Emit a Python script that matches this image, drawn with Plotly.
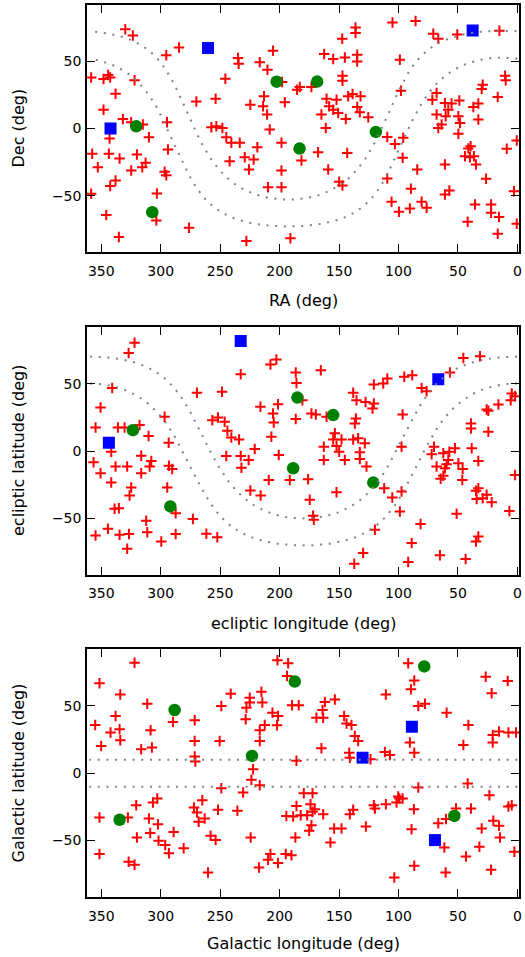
import numpy as np
import plotly.graph_objects as go

# ---------------- data ----------------
# Panel 1: equatorial (RA, Dec) in degrees
eq_red = [
    (329.8, 74.0), (323.4, 69.3), (284.6, 60.4), (295.3, 54.5), (358.5, 38.1), (348.1, 36.9), (344.2, 39.9),
    (342.5, 38.1), (322.0, 35.9), (338.0, 26.0), (348.1, 14.1), (331.8, 7.2), (324.8, 4.7), (315.0, 3.0),
    (294.7, 4.7), (270.0, 20.1), (253.8, 22.3), (245.6, 37.1), (235.0, 52.5), (234.4, 48.3), (216.7, 49.3),
    (210.2, 43.8), (205.5, 58.0), (197.9, 34.7), (185.3, 29.0), (183.0, 31.0), (213.1, 24.0), (224.6, 17.8),
    (213.9, 16.6), (195.6, 19.6), (210.5, 10.4),
    (105.0, 79.0), (85.6, 80.0), (136.1, 75.3), (136.1, 71.1), (147.3, 66.9), (70.7, 70.6), (66.5, 66.9),
    (50.5, 70.1), (15.1, 72.8), (162.5, 55.5), (154.9, 51.8), (145.1, 53.0), (134.7, 55.0), (134.7, 50.0),
    (98.8, 51.3), (147.1, 39.4), (147.1, 35.6), (173.2, 31.0), (97.9, 28.2), (67.9, 26.5), (160.5, 22.3),
    (152.1, 21.5), (142.3, 24.0), (138.6, 25.8), (131.9, 24.0), (158.3, 16.6), (154.9, 14.1), (164.8, 10.4),
    (150.7, 11.6), (134.7, 16.1), (132.5, 12.1), (144.3, 7.2), (125.4, 8.4), (71.5, 21.5), (60.9, 19.0),
    (55.3, 18.6), (58.1, 14.1), (48.8, 21.0), (67.9, 10.4), (60.3, 9.2), (49.6, 9.2), (48.2, 4.2), (63.7, 3.0),
    (37.0, 16.1), (32.8, 18.6), (32.8, 6.7), (29.1, 32.7), (30.0, 29.5), (16.5, 23.5), (10.3, 39.4), (9.8, 35.9),
    (257.4, 1.0), (253.2, 1.7), (248.1, 0.5), (208.3, -0.7), (343.0, -7.4), (309.9, -6.4), (244.8, -6.4),
    (240.6, -10.6), (233.5, -10.6), (218.7, -13.9), (198.4, -10.6), (293.9, -15.6), (357.6, -18.8),
    (343.6, -18.8), (334.6, -22.3), (320.0, -19.3), (352.9, -28.7), (324.8, -31.2), (315.5, -28.7),
    (312.7, -25.5), (296.7, -32.2), (295.3, -34.7), (338.0, -38.6), (342.5, -42.8), (242.0, -24.3),
    (229.3, -21.3), (221.8, -23.0), (225.7, -30.5), (198.4, -31.2), (181.6, -23.8), (209.7, -43.6),
    (198.4, -43.6), (358.5, -48.5), (303.2, -48.3), (345.8, -64.4), (303.7, -68.4), (335.2, -80.7),
    (276.2, -73.8), (227.9, -83.7), (190.9, -81.7),
    (161.1, 0.5), (167.6, -17.6), (143.1, -18.1), (159.1, -30.5), (149.9, -39.6), (147.1, -42.3),
    (109.4, -6.2), (103.0, -11.4), (96.0, -6.9), (96.5, -21.8), (109.4, -37.1), (84.2, -30.5), (89.5, -44.8),
    (105.8, -54.5), (99.6, -61.9), (90.4, -59.4), (80.5, -54.5), (76.3, -58.9), (66.5, 0.5), (49.6, -3.9),
    (60.9, -26.8), (41.2, -14.9), (39.3, -13.1), (44.0, -20.6), (39.8, -21.3), (36.5, -20.6), (34.8, -26.8),
    (26.3, -37.4), (60.9, -49.0), (57.2, -46.1), (35.6, -56.5), (22.1, -56.5), (22.1, -62.7), (15.4, -65.9),
    (41.8, -69.3), (16.5, -78.3), (8.9, -15.1), (0.5, -8.9), (2.8, -46.6), (0.5, -70.8),
]
eq_green = [(320.6, 1.7), (307.1, -62.2), (202.5, 34.9), (183.2, -14.9), (168.4, 35.0), (119.0, -2.5)]
eq_blue = [(342.2, 0.0), (260.2, 60.0), (37.6, 73.0)]

# Panel 2: ecliptic (longitude, latitude)
ecl_red = [
    (322.0, 80.5), (327.0, 72.8), (340.8, 46.9), (350.6, 32.3), (354.8, 17.5), (336.0, 17.5), (330.4, 17.5),
    (317.8, 19.3), (310.2, 11.1), (296.7, 25.4), (293.3, 6.2), (269.5, 43.2), (248.4, 44.0), (232.7, 57.0),
    (256.6, 22.9), (251.8, 24.9), (246.2, 21.7), (243.9, 15.0), (240.6, 10.1), (234.1, 8.6), (207.7, 64.2),
    (202.7, 67.9), (186.4, 58.3), (185.8, 50.6), (216.1, 32.8), (205.5, 27.9), (201.3, 34.8), (204.9, 21.2),
    (186.4, 23.7), (206.9, 10.6), (180.8, 37.8),
    (165.3, 60.0), (173.2, 27.9), (169.5, 27.2), (160.5, 25.4), (138.1, 43.2), (135.3, 37.8), (127.7, 36.5),
    (120.7, 35.3), (121.8, 31.6), (120.7, 49.4), (112.8, 50.1), (109.4, 53.8), (135.8, 24.2), (136.7, 20.5),
    (95.1, 55.1), (88.4, 56.3), (80.5, 46.9), (76.3, 44.4), (56.7, 58.3), (45.4, 69.1), (31.4, 70.4),
    (96.5, 27.2), (153.5, 13.1), (154.9, 8.6), (147.9, 8.6), (138.1, 8.6), (133.9, 9.4), (128.3, 5.7),
    (39.0, 20.5), (39.0, 16.8), (24.4, 14.3), (25.8, 30.9), (24.4, 29.9), (15.9, 34.6), (4.7, 42.7),
    (1.9, 40.7), (5.6, 37.8),
    (341.6, -0.5), (356.5, -8.4), (350.6, -16.5), (338.0, -11.6), (328.2, -11.6), (341.6, -23.5),
    (316.4, -3.5), (307.9, -7.4), (309.3, -11.6), (316.4, -16.5), (324.8, -27.2), (326.2, -33.1),
    (293.1, -10.9), (290.3, -13.3), (294.5, -27.2), (338.8, -43.0), (335.2, -42.5), (354.8, -62.7),
    (344.4, -57.8), (334.6, -62.2), (326.7, -61.7), (328.2, -72.6), (312.2, -51.9), (311.3, -60.3),
    (299.5, -67.2), (287.4, -46.2), (287.4, -61.7), (272.9, -50.6), (261.6, -61.5), (252.4, -64.0),
    (244.8, -3.7), (232.7, -3.7), (232.1, -12.4), (226.0, -6.7), (220.9, 1.5), (200.7, -3.0), (209.1, -21.5),
    (191.4, -21.5), (224.6, -29.4), (215.9, -33.1),
    (162.8, 3.2), (152.1, 3.7), (149.9, -0.5), (162.8, -6.7), (145.1, -6.7), (132.5, -1.0), (132.5, -6.0),
    (126.9, -11.6), (176.0, -21.0), (174.6, -36.3), (171.8, -48.2), (171.2, -51.1), (152.1, -30.6),
    (112.0, -27.7), (105.2, -34.6), (97.4, -30.1), (98.8, -44.9), (119.8, -58.5), (81.4, -54.3),
    (129.7, -75.8), (137.2, -83.7), (88.9, -68.4), (91.8, -82.5), (97.4, 3.2), (72.1, -2.5), (70.1, 3.2),
    (62.3, -1.7), (57.2, -0.5), (52.5, 2.0), (58.1, -6.7), (59.5, -9.9), (67.9, -11.6), (60.9, -12.8),
    (62.3, -18.3), (64.5, -20.7), (49.6, -9.1), (46.0, -13.3), (46.3, -21.5), (38.4, 2.0), (32.8, -7.4),
    (32.8, -27.7), (34.8, -29.6), (34.2, -35.6), (29.1, -35.1), (25.8, -32.6), (21.6, -38.0), (51.1, -46.7),
    (32.8, -63.5), (34.8, -67.2), (65.1, -77.5), (43.5, -80.3), (6.7, -44.5), (1.9, -17.8),
]
ecl_green = [(323.4, 15.5), (291.9, -41.2), (185.0, 39.7), (154.9, 26.7), (188.6, -12.8), (121.2, -23.5)]
ecl_blue = [(343.6, 6.2), (232.7, 81.7), (66.5, 53.3)]

# Panel 3: Galactic (l, b)
gal_red = [
    (322.0, 82.2), (351.5, 66.8), (334.0, 58.6), (311.3, 51.7), (338.0, 42.6), (355.1, 35.9), (342.2, 30.2),
    (334.6, 32.7), (334.0, 24.5), (350.1, 20.3), (316.4, 17.8), (307.4, 19.1), (308.5, 31.9), (289.7, 38.1),
    (271.4, 39.3), (271.4, 24.0), (271.4, 12.4), (270.9, 8.7), (250.4, 24.0), (249.0, 50.0), (241.1, 59.1),
    (225.1, 56.2), (225.1, 52.5), (227.9, 48.7), (228.5, 40.1), (215.3, 60.6), (214.5, 52.5), (216.7, 31.9),
    (212.5, 35.9), (216.7, 24.0), (206.0, 45.0), (201.3, 42.6), (202.1, 35.6), (201.8, 83.9), (192.8, 81.7),
    (193.7, 72.3), (189.5, 50.5), (183.9, 50.5), (185.8, 9.2), (222.3, 3.0),
    (91.8, 81.7), (86.7, 69.0), (89.5, 62.4), (110.6, 58.6), (83.3, 50.0), (77.7, 51.7), (59.5, 45.0),
    (26.6, 71.8), (8.1, 68.6), (21.6, 59.4), (161.9, 53.0), (163.9, 47.0), (153.5, 54.9), (169.0, 41.3),
    (163.3, 41.3), (145.7, 42.6), (143.7, 36.9), (139.5, 35.9), (136.7, 27.7), (133.9, 24.0), (164.8, 18.6),
    (141.4, 15.3), (140.9, 11.6), (123.5, 10.4), (111.4, 15.8), (107.2, 13.6), (90.4, 22.8), (86.7, 15.3),
    (41.2, 35.9), (45.4, 21.0), (20.7, 28.5), (15.4, 31.0), (20.7, 22.8), (7.5, 30.2), (1.1, 30.2),
    (223.7, -4.9), (216.7, -8.9), (249.0, -11.1), (230.7, -14.3), (351.5, -32.9), (327.6, -32.9),
    (320.6, -23.8), (306.5, -21.8), (302.9, -18.8), (309.9, -33.7), (302.3, -37.9), (320.0, -47.8),
    (308.8, -44.5), (301.8, -50.2), (296.2, -53.4), (293.1, -59.4), (289.1, -43.6), (280.7, -55.7),
    (351.5, -60.1), (327.0, -65.8), (322.0, -68.0), (272.0, -25.5), (269.5, -29.2), (268.1, -36.1),
    (263.0, -33.7), (265.0, -20.0), (251.8, -27.2), (258.0, -46.5), (253.8, -49.7), (260.2, -73.7),
    (235.5, -27.9), (224.3, -47.8), (217.3, -70.0), (209.7, -64.3), (207.7, -60.1), (201.3, -66.8),
    (194.8, -60.1), (190.0, -60.9), (194.3, -31.7), (188.6, -32.2), (182.2, -31.2), (185.8, -24.3),
    (186.7, -47.8),
    (179.6, -14.8), (172.3, -14.8), (174.0, -23.0), (170.4, -26.7), (172.3, -28.7), (176.8, -31.2),
    (163.3, -30.4), (173.2, -38.6), (175.1, -42.8), (157.2, -51.5), (154.1, -41.1), (147.9, -41.1),
    (140.9, -30.4), (138.1, -27.2), (127.4, -39.6), (120.7, -23.8), (119.8, -26.2), (110.6, -23.0),
    (101.6, -21.8), (100.2, -17.3), (99.3, -18.8), (96.5, -18.8), (83.3, -10.6), (87.0, -26.7),
    (89.0, -41.6), (103.5, -77.5), (86.7, -68.8), (66.5, -37.1), (60.0, -34.1), (51.6, -26.2),
    (61.4, -55.2), (60.3, -73.7), (43.2, -61.9), (41.8, -7.7), (39.0, -26.2), (30.0, -41.1), (31.9, -54.7),
    (23.5, -16.3), (20.2, -35.4), (15.4, -39.1), (14.6, -47.8), (22.1, -71.8), (7.5, -24.7), (4.7, -23.8),
    (2.5, -58.4),
]
gal_green = [(288.3, 47.0), (187.2, 68.1), (223.2, 12.9), (334.6, -34.6), (78.3, 79.4), (53.0, -31.7)]
gal_blue = [(130.2, 11.6), (88.7, 34.6), (69.3, -49.7)]

# Dotted reference lines: galactic latitude b = +/-10 deg
PLANE_B = [10.0, -10.0]
OBLIQUITY = 23.4392911

x_ticks = [0, 50, 100, 150, 200, 250, 300, 350]
y_ticks = [-50, 0, 50]
x_titles = ["RA (deg)", "ecliptic longitude (deg)", "Galactic longitude (deg)"]
y_titles = ["Dec (deg)", "ecliptic latitude (deg)", "Galactic latitude (deg)"]

# ---------------- coordinate helpers for the reference lines ----------------
EQ2GAL = np.array([
    [-0.0548755604, -0.8734370902, -0.4838350155],
    [0.4941094279, -0.4448296300, 0.7469822445],
    [-0.8676661490, -0.1980763734, 0.4559837762],
])


def plane_curve(b, frame):
    l = np.radians(np.linspace(0, 360, 1441))
    br = np.radians(b)
    g = np.vstack([np.cos(br) * np.cos(l), np.cos(br) * np.sin(l), np.full_like(l, np.sin(br))])
    e = EQ2GAL.T @ g
    if frame == "ecl":
        eps = np.radians(OBLIQUITY)
        y = np.cos(eps) * e[1] + np.sin(eps) * e[2]
        z = -np.sin(eps) * e[1] + np.cos(eps) * e[2]
        e = np.vstack([e[0], y, z])
    lon = np.degrees(np.arctan2(e[1], e[0])) % 360
    lat = np.degrees(np.arcsin(np.clip(e[2], -1, 1)))
    o = np.argsort(lon)
    return lon[o], lat[o]


panels = [
    (eq_red, eq_green, eq_blue, "eq"),
    (ecl_red, ecl_green, ecl_blue, "ecl"),
    (gal_red, gal_green, gal_blue, "gal"),
]

# layout in pixels (plot area 87..519 x 4.7..897.3)
W, H = 525, 957
ML, MR, MT, MB = 87, 6, 5, 60
PH = H - MT - MB
domains = [[0.7229, 1.0], [0.3612, 0.6388], [0.0, 0.2775]]
xtitle_py = [300, 623, 943]
ytitle_py = [128.5, 451, 773.5]

FONT = "DejaVu Sans"
fig = go.Figure()

for i, (red, green, blue, frame) in enumerate(panels):
    sfx = "" if i == 0 else str(i + 1)
    xa, ya = "x" + sfx, "y" + sfx
    rx, ry = zip(*red)
    fig.add_trace(go.Scatter(x=rx, y=ry, mode="markers", xaxis=xa, yaxis=ya, showlegend=False,
                             marker=dict(symbol="cross-thin", size=7.5, color="red",
                                         line=dict(color="red", width=2))))
    gx, gy = zip(*green)
    fig.add_trace(go.Scatter(x=gx, y=gy, mode="markers", xaxis=xa, yaxis=ya, showlegend=False,
                             marker=dict(symbol="circle", size=12.5, color="green", line=dict(width=0))))
    bx, by = zip(*blue)
    fig.add_trace(go.Scatter(x=bx, y=by, mode="markers", xaxis=xa, yaxis=ya, showlegend=False,
                             marker=dict(symbol="square", size=12, color="blue", line=dict(width=0))))
    for b in PLANE_B:
        if frame == "gal":
            cx, cy = [0, 360], [b, b]
        else:
            cx, cy = plane_curve(b, frame)
        fig.add_trace(go.Scatter(x=cx, y=cy, mode="lines", xaxis=xa, yaxis=ya, showlegend=False,
                                 line=dict(color="#808080", width=2, dash="2px,6.7px")))

    axis_common = dict(showline=True, linecolor="black", linewidth=1.5, mirror="ticks",
                       ticks="inside", ticklen=8, tickwidth=1.2, tickcolor="black",
                       showgrid=False, zeroline=False, automargin=False,
                       tickfont=dict(family=FONT, size=14, color="black"))
    fig.layout["xaxis" + sfx] = dict(axis_common, domain=[0, 1], anchor=ya, range=[362, -1.4],
                                     tickvals=x_ticks, ticklabelstandoff=5)
    fig.layout["yaxis" + sfx] = dict(axis_common, domain=domains[i], anchor=xa, range=[-92, 92],
                                     tickvals=y_ticks, ticklabelstandoff=1)

    fig.add_annotation(text=x_titles[i], xref="paper", yref="paper", showarrow=False,
                       x=(303 - ML) / (W - ML - MR), y=(H - MB - xtitle_py[i]) / PH,
                       xanchor="center", yanchor="middle",
                       font=dict(family=FONT, size=16, color="black"))
    fig.add_annotation(text=y_titles[i], xref="paper", yref="paper", showarrow=False, textangle=-90,
                       x=(18 - ML) / (W - ML - MR), y=(H - MB - ytitle_py[i]) / PH,
                       xanchor="center", yanchor="middle",
                       font=dict(family=FONT, size=16, color="black"))

fig.update_layout(width=W, height=H, margin=dict(l=ML, r=MR, t=MT, b=MB),
                  plot_bgcolor="white", paper_bgcolor="white", showlegend=False)

fig.write_html("out.html", config={"displayModeBar": False},
               post_script="document.body.style.margin='0px';document.body.style.overflow='hidden';")
